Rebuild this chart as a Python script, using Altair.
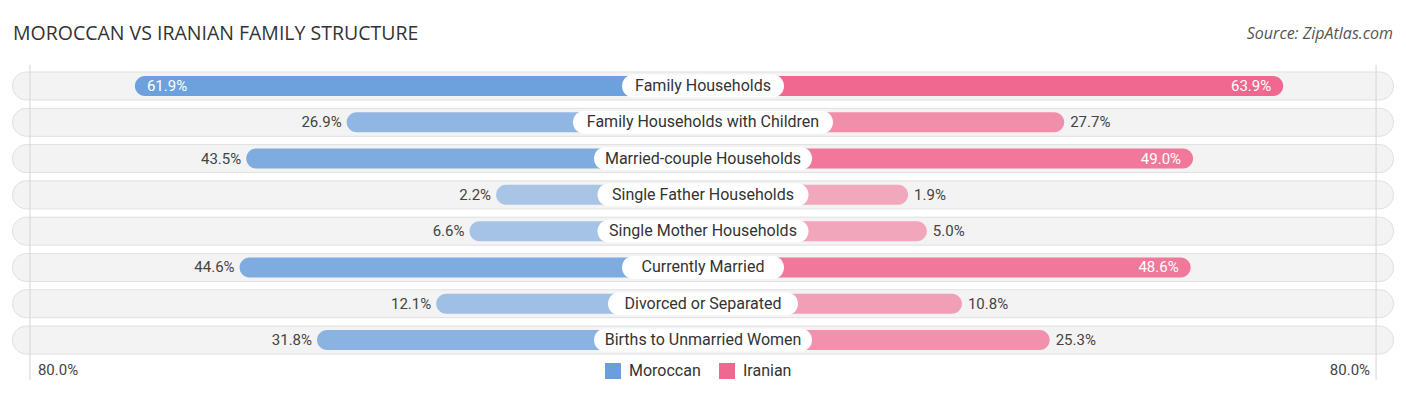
import altair as alt
import pandas as pd

# ---- data ----
title_text = "MOROCCAN VS IRANIAN FAMILY STRUCTURE"
source_text = "Source: ZipAtlas.com"
categories = [
    "Family Households",
    "Family Households with Children",
    "Married-couple Households",
    "Single Father Households",
    "Single Mother Households",
    "Currently Married",
    "Divorced or Separated",
    "Births to Unmarried Women",
]
moroccan = [61.9, 26.9, 43.5, 2.2, 6.6, 44.6, 12.1, 31.8]
iranian = [63.9, 27.7, 49.0, 1.9, 5.0, 48.6, 10.8, 25.3]
series = ["Moroccan", "Iranian"]
colors = ["#6a9fdc", "#f0688f"]
axis_max = 80.0
axis_label = "80.0%"

# ---- layout constants (scale units) ----
PX = 6.05            # pixels per percentage point
OFFSET = 32.0        # hidden part of each bar under the centre label
RULE_INSET = 0.75
W, H = 1390, 379
D = (W / 2) / PX
PILL = D - 4.5 / PX
INSIDE = 46.0

xs = alt.Scale(domain=[-D, D], nice=False, zero=False, padding=0)
ys = alt.Scale(domain=[-2.149, 8.294], reverse=True, nice=False, zero=False, padding=0)

rows = pd.DataFrame({"idx": list(range(len(categories))), "category": categories})
rows["pl"] = -PILL
rows["pr"] = PILL
rows["hw"] = (rows["category"].str.len() * 7.0 + 43) / 2 / PX
rows["bl"] = -rows["hw"]

recs = []
for i, (m, r) in enumerate(zip(moroccan, iranian)):
    recs.append({"idx": i, "series": "Moroccan", "value": m, "x0": 0.0,
                 "x1": -(OFFSET + m), "lab": f"{m:.1f}%", "side": "L"})
    recs.append({"idx": i, "series": "Iranian", "value": r, "x0": 0.0,
                 "x1": OFFSET + r, "lab": f"{r:.1f}%", "side": "R"})
bars = pd.DataFrame(recs)

edge = axis_max + OFFSET - RULE_INSET
ends = pd.DataFrame({"x": [-edge, edge],
                     "y0": [-0.58, -0.58], "y1": [8.1, 8.1],
                     "ly": [7.83, 7.83], "lab": [axis_label, axis_label],
                     "side": ["L", "R"]})

pills = alt.Chart(rows).mark_bar(
    cornerRadius=14, color="#f3f3f3", stroke="#e0e0e0", strokeWidth=1,
    size=28, orient="horizontal"
).encode(
    x=alt.X("pl:Q", scale=xs, axis=None), x2="pr:Q",
    y=alt.Y("idx:Q", scale=ys, axis=None),
)

rules = alt.Chart(ends).mark_rule(color="#d5d5d5", strokeWidth=1).encode(
    x=alt.X("x:Q", scale=xs, axis=None),
    y=alt.Y("y0:Q", scale=ys, axis=None), y2="y1:Q",
)

barl = alt.Chart(bars).mark_bar(cornerRadius=10, size=20, orient="horizontal").encode(
    x=alt.X("x0:Q", scale=xs, axis=None), x2="x1:Q",
    y=alt.Y("idx:Q", scale=ys, axis=None),
    color=alt.Color("series:N", scale=alt.Scale(domain=series, range=colors),
                    legend=alt.Legend(orient="none", legendX=597, legendY=355,
                                      direction="horizontal", title=None,
                                      symbolType="square", symbolSize=256,
                                      symbolStrokeWidth=0, symbolOpacity=1,
                                      labelFont="Roboto", labelFontSize=16,
                                      labelColor="#333333", labelOffset=8,
                                      columnPadding=18)),
    opacity=alt.Opacity("value:Q", scale=alt.Scale(domain=[0, 64], range=[0.52, 1.0]),
                        legend=None),
)

boxes = alt.Chart(rows).mark_bar(cornerRadius=11.5, size=23, color="white",
                                 orient="horizontal").encode(
    x=alt.X("bl:Q", scale=xs, axis=None), x2="hw:Q",
    y=alt.Y("idx:Q", scale=ys, axis=None),
)

cats = alt.Chart(rows).mark_text(font="Roboto", fontSize=16, color="#333333",
                                 baseline="middle", align="center").encode(
    x=alt.value(W / 2),
    y=alt.Y("idx:Q", scale=ys, axis=None),
    text="category:N",
)

def vtext(side, inside):
    cond = (f"datum.side == '{side}' && datum.value " + (">=" if inside else "<") + f" {INSIDE}")
    if side == "L":
        align, dx = ("left", 12) if inside else ("right", -5)
    else:
        align, dx = ("right", -12) if inside else ("left", 6)
    return alt.Chart(bars).transform_filter(cond).mark_text(
        font="Roboto", fontSize=15, baseline="middle", align=align, dx=dx,
        color="white" if inside else "#444444",
    ).encode(
        x=alt.X("x1:Q", scale=xs, axis=None),
        y=alt.Y("idx:Q", scale=ys, axis=None),
        text="lab:N",
    )

axl = alt.Chart(ends).transform_filter("datum.side == 'L'").mark_text(
    font="Roboto", fontSize=15, color="#444444", align="left", dx=8, baseline="middle"
).encode(x=alt.X("x:Q", scale=xs, axis=None), y=alt.Y("ly:Q", scale=ys, axis=None), text="lab:N")
axr = alt.Chart(ends).transform_filter("datum.side == 'R'").mark_text(
    font="Roboto", fontSize=15, color="#444444", align="right", dx=-6, baseline="middle"
).encode(x=alt.X("x:Q", scale=xs, axis=None), y=alt.Y("ly:Q", scale=ys, axis=None), text="lab:N")

title = alt.Chart(pd.DataFrame({"t": [title_text]})).mark_text(
    font="Open Sans", fontSize=19.5, color="#333333", align="left", baseline="middle"
).encode(x=alt.value(5), y=alt.value(26), text="t:N")
source = alt.Chart(pd.DataFrame({"t": [source_text]})).mark_text(
    font="Open Sans", fontSize=16, fontStyle="italic", color="#555555",
    align="right", baseline="middle"
).encode(x=alt.value(1385), y=alt.value(26), text="t:N")

chart = alt.layer(
    pills, rules, barl, boxes, cats,
    vtext("L", True), vtext("L", False), vtext("R", True), vtext("R", False),
    axl, axr, title, source,
).properties(
    width=W, height=H,
    autosize=alt.AutoSizeParams(type="none"),
    padding=0,
).configure_view(stroke=None)

chart.save("out.html", embed_options={"renderer": "svg", "actions": False})
